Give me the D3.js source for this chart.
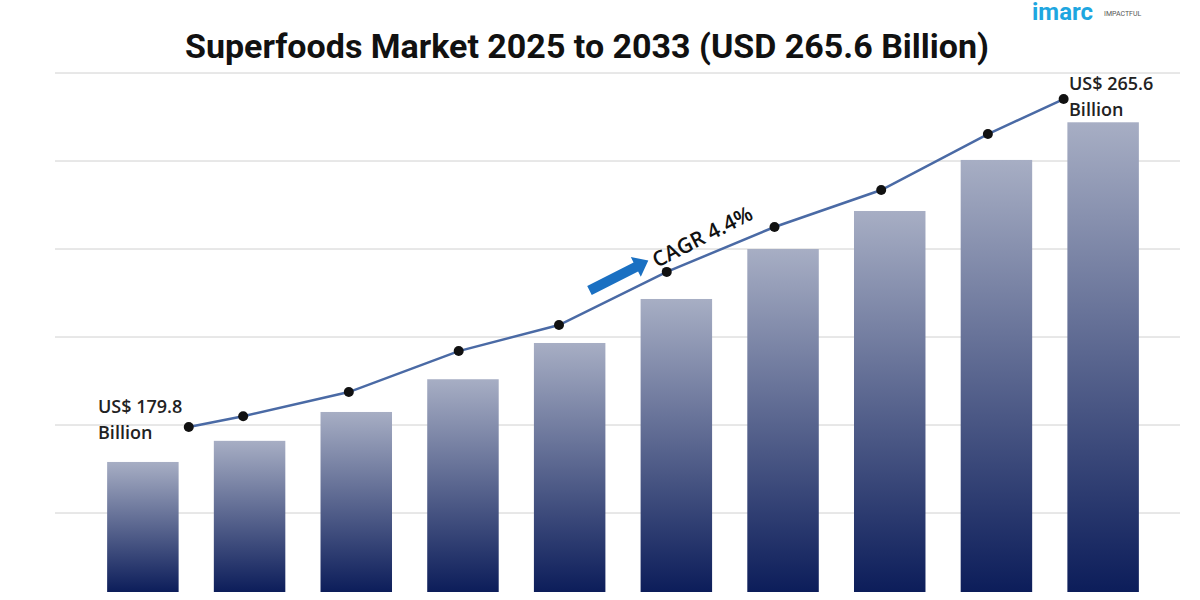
<!DOCTYPE html><html><head><meta charset="utf-8">
<script src="https://cdn.jsdelivr.net/npm/d3@7"></script>
<style>body{margin:0;background:#fff}</style></head><body>
<svg id="c" width="1200" height="600"></svg>
<script>
const years=["2024","2025","2026","2027","2028","2029","2030","2031","2032","2033"];
const barValues=[79,91,107.4,126,146.6,171.6,200,221.6,250.6,272];
const lineValues=[98.9,105,118.7,142,156.8,187,212.5,233.5,265.3,285.2];
const linePos=[0.43,0.94,1.93,2.96,3.9,4.91,5.92,6.92,7.92,8.63];
const gridTicks=[50,100,150,200,250,300];
const svg=d3.select("#c");
const y=d3.scaleLinear().domain([0,300]).range([601,73]);
const x=d3.scaleBand().domain(years).range([89,1157]).paddingInner(0.33).paddingOuter(0.17);
const xi=d3.scaleLinear().domain([0,9]).range([x(years[0])+x.bandwidth()/2,x(years[9])+x.bandwidth()/2]);
const defs=svg.append("defs");
const g=defs.append("linearGradient").attr("id","bg").attr("x1",0).attr("y1",0).attr("x2",0).attr("y2",1);
g.append("stop").attr("offset","0%").attr("stop-color","#a7aec4");
g.append("stop").attr("offset","100%").attr("stop-color","#0c1d5a");
svg.append("g").selectAll("line").data(gridTicks).join("line")
 .attr("x1",55).attr("x2",1180).attr("y1",d=>y(d)).attr("y2",d=>y(d))
 .attr("stroke","#d0d0d0").attr("stroke-width",1);
const base=592;
svg.append("g").selectAll("rect").data(barValues).join("rect")
 .attr("x",(d,i)=>x(years[i])).attr("width",x.bandwidth())
 .attr("y",d=>y(d)).attr("height",d=>base-y(d)).attr("fill","url(#bg)");
const pts=lineValues.map((v,i)=>[xi(linePos[i]),y(v)]);
svg.append("path").attr("d",d3.line()(pts)).attr("fill","none").attr("stroke","#4a6aa5").attr("stroke-width",2.5);
svg.append("g").selectAll("circle").data(pts).join("circle")
 .attr("cx",d=>d[0]).attr("cy",d=>d[1]).attr("r",5).attr("fill","#111");
svg.append("text").attr("x",587).attr("y",58).attr("text-anchor","middle")
 .attr("font-family","Roboto, 'Open Sans', sans-serif").attr("font-weight","bold").attr("font-size",34).attr("fill","#111")
 .text("Superfoods Market 2025 to 2033 (USD 265.6 Billion)");
const lab=(tx,ty,t1)=>{const t=svg.append("text").attr("font-family","'Open Sans', sans-serif").attr("font-weight","600").attr("font-size",18).attr("fill","#222");
 t.append("tspan").attr("x",tx).attr("y",ty).text(t1);t.append("tspan").attr("x",tx).attr("y",ty+26).text("Billion");};
lab(98,413,"US$ 179.8");
lab(1069,90,"US$ 265.6");
const a=svg.append("g").attr("transform","translate(618,276) rotate(-27)");
a.append("path").attr("d","M-32,-5 L20,-5 L20,-11 L34,0 L20,11 L20,5 L-32,5 Z").attr("fill","#1a70c2");
svg.append("text").attr("transform","translate(657,268) rotate(-27)")
 .attr("font-family","'Open Sans', sans-serif").attr("font-weight","600").attr("font-size",21).attr("fill","#111").text("CAGR 4.4%");
svg.append("text").attr("x",1032).attr("y",20).attr("font-family","Roboto, sans-serif").attr("font-weight","bold").attr("font-size",24).attr("fill","#1ea6e0").text("imarc");
svg.append("text").attr("x",1104).attr("y",16).attr("font-family","Roboto, sans-serif").attr("font-size",7).attr("fill","#555").text("IMPACTFUL");
</script></body></html>
